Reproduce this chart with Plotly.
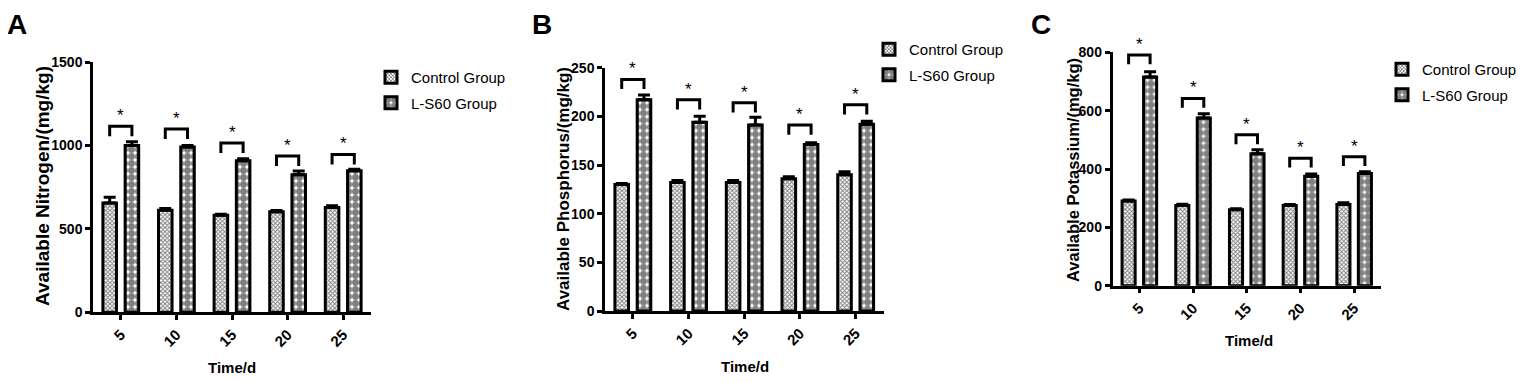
import plotly.graph_objects as go

# The page body has an 8 px margin, so the figure is drawn 8 px in from the
# top-left corner of the window; reference pixel positions are offset by it.
PAD = 8
WIN_W, WIN_H = 1528, 383
W, H = WIN_W - 2 * PAD, WIN_H - 2 * PAD

days = ["5", "10", "15", "20", "25"]
groups = ["Control Group", "L-S60 Group"]

# Panel A: Available Nitrogen
n_ctrl = [655, 612, 582, 602, 628]
n_ctrl_err = [35, 10, 6, 8, 10]
n_ls60 = [1000, 990, 908, 825, 848]
n_ls60_err = [22, 10, 12, 22, 10]
n_bracket = [1115, 1099, 1015, 936, 946]

# Panel B: Available Phosphorus
p_ctrl = [130, 132, 132, 136, 140]
p_ctrl_err = [1, 2, 2, 2, 3]
p_ls60 = [217, 194, 191, 171, 192]
p_ls60_err = [5, 6, 8, 2, 3]
p_bracket = [238, 217, 214, 191, 212]

# Panel C: Available Potassium
k_ctrl = [290, 275, 260, 275, 278]
k_ctrl_err = [4, 4, 4, 3, 6]
k_ls60 = [715, 575, 452, 375, 385]
k_ls60_err = [18, 14, 14, 8, 6]
k_bracket = [791, 642, 517, 437, 442]

panels = [
    dict(letter="A", title="Available Nitrogen/(mg/kg)", ctrl=n_ctrl, ce=n_ctrl_err,
         ls=n_ls60, le=n_ls60_err, br=n_bracket, yrange=1500, dtick=500, tick_size=14,
         xd=(93, 371), yd=(312.3, 62), ytitle_x=42, ytitle_y=186, ytitle_size=19,
         letter_x=17, xtitle_xy=(232, 367), legend_xy=(371, 61)),
    dict(letter="B", title="Available Phosphorus/(mg/kg)", ctrl=p_ctrl, ce=p_ctrl_err,
         ls=p_ls60, le=p_ls60_err, br=p_bracket, yrange=250, dtick=50, tick_size=14,
         xd=(605, 883.5), yd=(311, 67.7), ytitle_x=563, ytitle_y=189, ytitle_size=17,
         letter_x=542, xtitle_xy=(745, 366), legend_xy=(869, 33)),
    dict(letter="C", title="Available Potassium/(mg/kg)", ctrl=k_ctrl, ce=k_ctrl_err,
         ls=k_ls60, le=k_ls60_err, br=k_bracket, yrange=800, dtick=200, tick_size=14,
         xd=(1112.5, 1381), yd=(285.7, 52.3), ytitle_x=1073, ytitle_y=170, ytitle_size=16.5,
         letter_x=1041, xtitle_xy=(1249, 340), legend_xy=(1382, 53)),
]


def fx(px):
    return (px - PAD) / W


def fy(py):
    return 1 - (py - PAD) / H


FONT = "Liberation Sans, Arial"

BARGAP = 0.2
OFF = (1 - BARGAP) / 4

fig = go.Figure()
annotations = []
layout = dict(width=W, height=H, margin=dict(l=0, r=0, t=0, b=0, autoexpand=False),
              paper_bgcolor="white", plot_bgcolor="white", showlegend=True,
              barmode="group", bargap=BARGAP, bargroupgap=0.39)

for i, p in enumerate(panels):
    sfx = "" if i == 0 else str(i + 1)
    xa, ya = "x" + sfx, "y" + sfx
    leg = "legend" + sfx
    xs = list(range(len(days)))
    fig.add_trace(go.Bar(
        x=xs, y=p["ctrl"], name=groups[0], xaxis=xa, yaxis=ya, legend=leg, legendgroup=f"c{i}",
        marker=dict(color="white", line=dict(color="black", width=3),
                    pattern=dict(shape="x", size=3, solidity=0.55, fgcolor="black", bgcolor="white")),
        error_y=dict(type="data", symmetric=False, array=p["ce"], arrayminus=[0] * 5,
                     color="black", thickness=3, width=6),
    ))
    fig.add_trace(go.Bar(
        x=xs, y=p["ls"], name=groups[1], xaxis=xa, yaxis=ya, legend=leg, legendgroup=f"l{i}",
        marker=dict(color="white", line=dict(color="black", width=3),
                    pattern=dict(shape=".", size=7, solidity=0.75, fgcolor="black", bgcolor="white")),
        error_y=dict(type="data", symmetric=False, array=p["le"], arrayminus=[0] * 5,
                     color="black", thickness=3, width=6),
    ))
    legdrop = 0.04 * p["yrange"]
    for j, h in enumerate(p["br"]):
        fig.add_trace(go.Scatter(
            x=[j - OFF, j - OFF, j + OFF, j + OFF], y=[h - legdrop, h, h, h - legdrop],
            mode="lines", line=dict(color="black", width=3), xaxis=xa, yaxis=ya,
            showlegend=False, hoverinfo="skip"))
        annotations.append(dict(x=j, y=h, xref=xa, yref=ya, text="*", showarrow=False,
                                yanchor="bottom", yshift=-1,
                                font=dict(family=FONT, size=17, color="black")))
    x0, x1 = p["xd"]
    yb, yt = p["yd"]
    axis_common = dict(showgrid=False, zeroline=False, showline=True, linecolor="black",
                       linewidth=2.5, ticks="outside", tickcolor="black", tickwidth=2.5, ticklen=5,
                       automargin=False)
    tickfont = dict(family=FONT, size=p["tick_size"], color="black", weight="bold")
    layout["xaxis" + sfx] = dict(domain=[fx(x0), fx(x1)], anchor=ya, range=[-0.5, 4.5],
                                 tickvals=xs, ticktext=days, tickangle=-45,
                                 tickfont=dict(family=FONT, size=15, color="black", weight="bold"),
                                 **axis_common)
    layout["yaxis" + sfx] = dict(domain=[fy(yb), fy(yt)], anchor=xa,
                                 range=[0, p["yrange"]], dtick=p["dtick"], tick0=0,
                                 tickfont=tickfont, **axis_common)
    lx, ly = p["legend_xy"]
    layout[leg] = dict(x=fx(lx), y=fy(ly), xanchor="left", yanchor="top",
                       bgcolor="rgba(0,0,0,0)", traceorder="grouped", tracegroupgap=3,
                       font=dict(family=FONT, size=15, color="black"))
    annotations.append(dict(x=fx(p["ytitle_x"]), y=fy(p["ytitle_y"]), xref="paper", yref="paper",
                            text="<b>" + p["title"] + "</b>", textangle=-90, showarrow=False,
                            xanchor="center", yanchor="middle",
                            font=dict(family=FONT, size=p["ytitle_size"], color="black")))
    tx, ty = p["xtitle_xy"]
    annotations.append(dict(x=fx(tx), y=fy(ty), xref="paper", yref="paper",
                            text="<b>Time/d</b>", showarrow=False, xanchor="center", yanchor="middle",
                            font=dict(family=FONT, size=15, color="black")))
    annotations.append(dict(x=fx(p["letter_x"]), y=1, xref="paper", yref="paper",
                            text="<b>" + p["letter"] + "</b>", showarrow=False,
                            xanchor="center", yanchor="top", borderpad=0,
                            font=dict(family=FONT, size=28, color="black")))

layout["annotations"] = annotations
fig.update_layout(**layout)
fig.write_html("out.html")
